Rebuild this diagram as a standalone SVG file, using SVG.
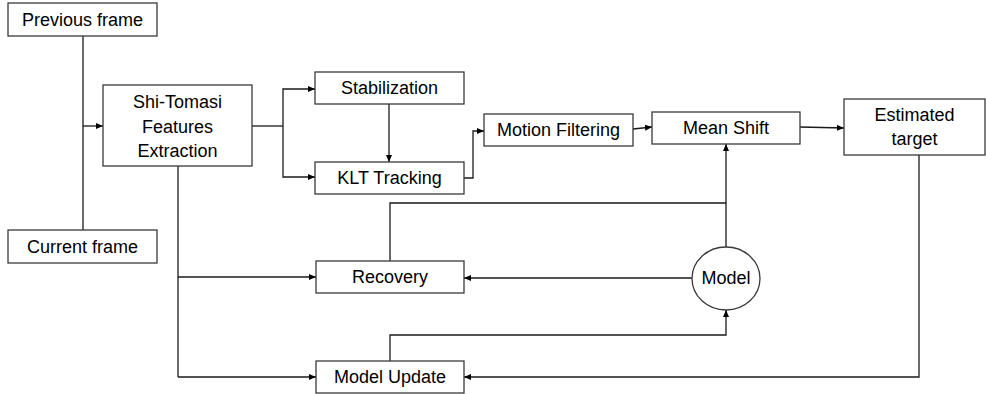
<svg xmlns="http://www.w3.org/2000/svg" width="986" height="394" viewBox="0 0 986 394">
<defs>
<marker id="ah" markerWidth="7" markerHeight="6" refX="7" refY="3" orient="auto" markerUnits="userSpaceOnUse">
<path d="M0,0 L7,3 L0,6 Z" fill="#000"/>
</marker>
<style>
.box{fill:#fff;stroke:#3a3a3a;stroke-width:1.3}
.t{font-family:"Liberation Sans",Arial,sans-serif;font-size:18px;fill:#000;text-anchor:middle;dominant-baseline:central}
.c{fill:none;stroke:#1a1a1a;stroke-width:1.3}
.a{marker-end:url(#ah)}
</style>
</defs>
<rect width="986" height="394" fill="#fff"/>
<g id="connectors">
<path class="c" d="M83,36 V230"/>
<path class="c a" d="M83,126 H103"/>
<path class="c" d="M252,126 H283"/>
<path class="c a" d="M283,126 V89 H315"/>
<path class="c a" d="M283,126 V177 H315"/>
<path class="c a" d="M389,104 V162"/>
<path class="c a" d="M464,178 H473 V131 H484"/>
<path class="c a" d="M633,129 L652,127"/>
<path class="c a" d="M800,127 L844,128"/>
<path class="c a" d="M726,247 V144"/>
<path class="c" d="M390,261 V203 H726"/>
<path class="c a" d="M692,278 H464"/>
<path class="c" d="M178,166 V377"/>
<path class="c a" d="M178,277 H316"/>
<path class="c a" d="M178,377 H316"/>
<path class="c a" d="M390,361 V335 H726 V310"/>
<path class="c a" d="M919,155 V377 H464"/>
</g>
<g id="previous-frame"><rect class="box" x="8" y="3" width="149" height="33"/><text class="t" x="82.5" y="20">Previous frame</text></g>
<g id="current-frame"><rect class="box" x="8" y="230" width="149" height="33"/><text class="t" x="82.5" y="247">Current frame</text></g>
<g id="shi-tomasi"><rect class="box" x="103" y="85" width="149" height="81"/><text class="t" x="177.5" y="102">Shi-Tomasi</text><text class="t" x="177.5" y="127">Features</text><text class="t" x="177.5" y="151">Extraction</text></g>
<g id="stabilization"><rect class="box" x="315" y="72" width="149" height="32"/><text class="t" x="389.5" y="88">Stabilization</text></g>
<g id="klt-tracking"><rect class="box" x="315" y="162" width="149" height="32"/><text class="t" x="389.5" y="178">KLT Tracking</text></g>
<g id="motion-filtering"><rect class="box" x="484" y="114" width="149" height="32"/><text class="t" x="558.5" y="130">Motion Filtering</text></g>
<g id="mean-shift"><rect class="box" x="652" y="112" width="148" height="32"/><text class="t" x="726" y="128">Mean Shift</text></g>
<g id="estimated-target"><rect class="box" x="844" y="99" width="141" height="56"/><text class="t" x="914.5" y="115">Estimated</text><text class="t" x="914.5" y="139">target</text></g>
<g id="recovery"><rect class="box" x="316" y="261" width="148" height="32"/><text class="t" x="390" y="277">Recovery</text></g>
<g id="model-update"><rect class="box" x="316" y="361" width="148" height="32"/><text class="t" x="390" y="377">Model Update</text></g>
<g id="model"><ellipse class="box" cx="726" cy="278.5" rx="34" ry="31.5"/><text class="t" x="726" y="278">Model</text></g>
</svg>
